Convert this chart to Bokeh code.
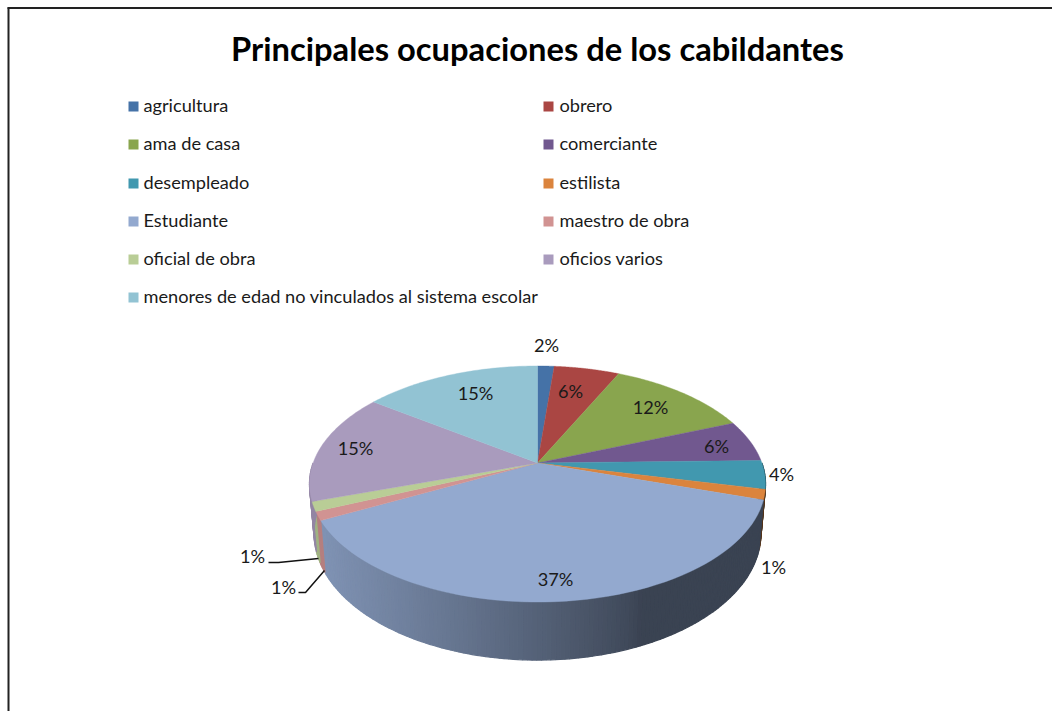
import numpy as np
from bokeh.plotting import figure
from bokeh.models import Range1d
from bokeh.core.properties import value
from bokeh.embed import file_html
from bokeh.resources import INLINE

TITLE = "Principales ocupaciones de los cabildantes"
categories = ["agricultura", "obrero", "ama de casa", "comerciante", "desempleado", "estilista",
              "Estudiante", "maestro de obra", "oficial de obra", "oficios varios",
              "menores de edad no vinculados al sistema escolar"]
shares = [1.4, 5.5, 12.05, 5.7, 3.9, 1.4, 37.4, 1.2, 1.3, 15.2, 14.95]
labels = ["2%", "6%", "12%", "6%", "4%", "1%", "37%", "1%", "1%", "15%", "15%"]
colors = ["#4572A7", "#AA4643", "#89A54E", "#71588F", "#4198AF", "#DB843D",
          "#93A9CF", "#D19392", "#B9CD96", "#A99BBD", "#92C3D3"]

FONT = value("Lato")
W, H = 1052, 711
p = figure(width=W, height=H, output_backend="svg", toolbar_location=None,
           x_range=Range1d(0, W), y_range=Range1d(H, 0), min_border=0,
           outline_line_color=None, x_axis_type=None, y_axis_type=None)
p.grid.visible = False

# frame
p.line([8, 8], [7, 711], line_color="#222222", line_width=2)
p.line([7, 1052], [7.5, 7.5], line_color="#222222", line_width=2)

# title
p.text([537], [48], text=[TITLE], text_font=FONT, text_font_style="bold", text_font_size="32.7px",
       text_align="center", text_baseline="middle", text_color="#000000")

# legend
leg_rows = [106, 144, 183, 221, 259, 297]
lx, ly = [], []
for i, c in enumerate(categories):
    row = i // 2
    lx.append(133 if i % 2 == 0 else 548)
    ly.append(leg_rows[row])
p.rect(lx, ly, width=10, height=10, fill_color=colors, line_color=None)
p.text([x + (10 if x == 133 else 11) for x in lx], [y - 2 for y in ly], text=categories, text_font=FONT,
       text_font_size="18.2px", text_baseline="middle", text_color="#1a1a1a")

# projection of a tilted disc
CX, CY, RX, RY, K, D, SHRINK = 537.0, 462.5, 224.4, 114.3, 0.178, 47.7, 0.98


def project(theta, bottom=False):
    u, v = np.sin(theta), np.cos(theta)
    w = 1 + K * v
    x = RX * u / w
    y = CY - RY * v / w
    if bottom:
        return CX + x * SHRINK, y + D / w
    return CX + x, y


edges = np.radians(np.concatenate([[0], np.cumsum(shares)]) * 3.6 * 100 / np.sum(shares))


def shade(x):
    return np.interp(x, [320, 450, 537, 628, 640, 765], [0.87, 0.70, 0.58, 0.44, 0.40, 0.40])


# side wall
xs, ys, fc = [], [], []
for i, c in enumerate(colors):
    a0, a1 = edges[i], edges[i + 1]
    lo, hi = max(a0, np.pi / 2), min(a1, 3 * np.pi / 2)
    if hi <= lo:
        continue
    n = max(1, int(np.degrees(hi - lo)))
    t = np.linspace(lo, hi, n + 1)
    for a, b in zip(t[:-1], t[1:]):
        x1, y1 = project(a)
        x2, y2 = project(b)
        x3, y3 = project(b, True)
        x4, y4 = project(a, True)
        xs.append([x1, x2, x3, x4])
        ys.append([y1, y2, y3, y4])
        s = shade((x1 + x2) / 2)
        rgb = [int(c[k:k + 2], 16) for k in (1, 3, 5)]
        fc.append("#%02x%02x%02x" % tuple(int(v * s) for v in rgb))
p.patches(xs, ys, fill_color=fc, line_color=fc, line_width=1.2)

# top surface
txs, tys = [], []
for i in range(len(colors)):
    t = np.linspace(edges[i], edges[i + 1], 60)
    x, y = project(t)
    txs.append([CX] + list(x))
    tys.append([CY] + list(y))
p.patches(txs, tys, fill_color=colors, line_color=colors, line_width=0.4)

# leader lines
p.line([268, 278, 318], [562, 562, 558], line_color="#111111", line_width=1.5)
p.line([298, 305, 324], [592, 592, 570], line_color="#111111", line_width=1.5)

# data labels
lab_x = [546, 570, 650, 716, 781, 773, 555, 283, 252, 355, 475]
lab_y = [344.5, 390.5, 406.5, 445.5, 473.5, 566.5, 578.5, 586.5, 555.5, 447.5, 392.5]
p.text(lab_x, lab_y, text=labels, text_font=FONT, text_font_size="18.2px", text_align="center",
       text_baseline="middle", text_color="#1a1a1a")

open("out.html", "w").write(file_html(p, INLINE))
